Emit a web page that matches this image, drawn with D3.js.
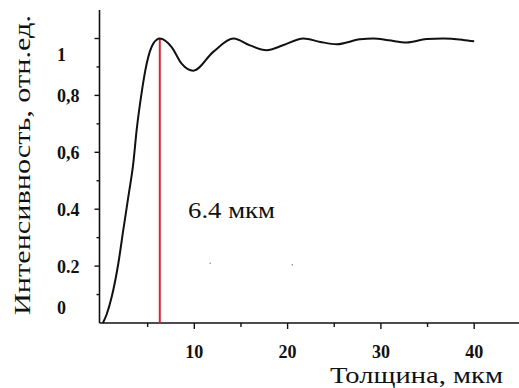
<!DOCTYPE html>
<html>
<head>
<meta charset="utf-8">
<script src="https://cdn.jsdelivr.net/npm/d3@7"></script>
<style>
  body { margin: 0; background: #fff; }
  svg { display: block; }
</style>
</head>
<body>
<svg id="chart" width="519" height="388" font-family="'Liberation Serif', 'Times New Roman', serif"></svg>
<script>
/* data */
const thickness = [0.2, 0.6, 1.15, 1.86, 2.39, 2.93, 3.46, 3.82, 4.29, 4.9, 5.6, 6.3, 7.57, 8.64, 9.9,
  12.03, 14.2, 15.96, 17.75, 19.5, 21.7, 23.5, 25.25, 27.75, 29.2, 30.8, 32.75, 34.9, 36.7, 38.8, 40.0];
const intensity = [0, 0.03, 0.092, 0.21, 0.327, 0.444, 0.561, 0.678, 0.795, 0.912, 0.982, 1.0, 0.97, 0.912, 0.887,
  0.953, 1.0, 0.976, 0.959, 0.976, 1.0, 0.988, 0.98, 0.997, 1.0, 0.994, 0.986, 0.998, 1.0, 0.995, 0.99];
const xTicks = [10, 20, 30, 40];
const xMinorTicks = [5, 15, 25, 35];
const yTicks = [0, 0.2, 0.4, 0.6, 0.8, 1];
const yTickLabels = ["0", "0.2", "0.4", "0,6", "0,8", "1"];
const yMinorTicks = [0.1, 0.3, 0.5, 0.7, 0.9];
const peakX = 6.3;
const peakLabel = "6.4 мкм";
const strayDots = [[11.7, 0.21], [20.5, 0.205]];

const svg = d3.select("#chart");

const x = d3.scaleLinear().domain([0, 10]).range([101, 194.3]);
const y = d3.scaleLinear().domain([0, 1]).range([323, 38.5]);

const x0 = x.invert(99.5), x1 = x.invert(519);

/* axes */
svg.append("line")
  .attr("x1", x(x0)).attr("x2", x(x1))
  .attr("y1", y(0)).attr("y2", y(0))
  .attr("stroke", "#111").attr("stroke-width", 1.6);
svg.append("line")
  .attr("x1", x(x0)).attr("x2", x(x0))
  .attr("y1", y(0)).attr("y2", y(1.1))
  .attr("stroke", "#111").attr("stroke-width", 1.6);

// x ticks
svg.selectAll(".xt").data(xTicks).enter().append("line")
  .attr("x1", d => x(d)).attr("x2", d => x(d))
  .attr("y1", y(0)).attr("y2", y(0) + 6)
  .attr("stroke", "#111").attr("stroke-width", 1.4);
svg.selectAll(".xm").data(xMinorTicks).enter().append("line")
  .attr("x1", d => x(d)).attr("x2", d => x(d))
  .attr("y1", y(0)).attr("y2", y(0) + 4)
  .attr("stroke", "#111").attr("stroke-width", 1.4);
svg.selectAll(".xl").data(xTicks).enter().append("text")
  .attr("x", d => x(d)).attr("y", 358)
  .attr("text-anchor", "middle")
  .attr("font-size", 18).attr("font-weight", "bold")
  .attr("fill", "#111")
  .text(d => d);

// y ticks
svg.selectAll(".yt").data(yTicks.slice(1)).enter().append("line")
  .attr("x1", x(x0) - 5).attr("x2", x(x0))
  .attr("y1", d => y(d)).attr("y2", d => y(d))
  .attr("stroke", "#111").attr("stroke-width", 1.4);
svg.selectAll(".ym").data(yMinorTicks).enter().append("line")
  .attr("x1", x(x0) - 3).attr("x2", x(x0))
  .attr("y1", d => y(d)).attr("y2", d => y(d))
  .attr("stroke", "#111").attr("stroke-width", 1.4);
// labels sit a little off their ticks at both ends, as in the source
const yNudge = d => d === 0 ? -16 : d === 1 ? 15 : 0;
svg.selectAll(".yl").data(yTicks).enter().append("text")
  .attr("x", 57).attr("y", d => y(d) + yNudge(d) + 7)
  .attr("font-size", 18).attr("font-weight", "bold")
  .attr("fill", "#111")
  .text((d, i) => yTickLabels[i]);

// axis titles (the source type is set wide, so stretch to its length)
svg.append("text")
  .attr("transform", "translate(30,165) rotate(-90)")
  .attr("text-anchor", "middle")
  .attr("font-size", 23)
  .attr("textLength", 300).attr("lengthAdjust", "spacingAndGlyphs")
  .attr("fill", "#111")
  .text("Интенсивность, отн.ед.");
svg.append("text")
  .attr("x", 503).attr("y", 383)
  .attr("text-anchor", "end")
  .attr("font-size", 23)
  .attr("textLength", 173).attr("lengthAdjust", "spacingAndGlyphs")
  .attr("fill", "#111")
  .text("Толщина, мкм");

/* red marker at the first maximum */
svg.append("line")
  .attr("x1", x(peakX)).attr("x2", x(peakX))
  .attr("y1", y(0)).attr("y2", y(1))
  .attr("stroke", "#d6263a").attr("stroke-width", 2);

svg.append("text")
  .attr("x", 188).attr("y", 218)
  .attr("font-size", 23)
  .attr("textLength", 87).attr("lengthAdjust", "spacingAndGlyphs")
  .attr("fill", "#111")
  .text(peakLabel);

svg.selectAll(".dot").data(strayDots).enter().append("circle")
  .attr("cx", d => x(d[0])).attr("cy", d => y(d[1]))
  .attr("r", 0.8).attr("fill", "#888");

/* curve */
const pts = thickness.map((t, i) => [t, intensity[i]]);
const line = d3.line()
  .x(d => x(d[0]))
  .y(d => y(d[1]))
  .curve(d3.curveMonotoneX);

svg.append("path")
  .datum(pts)
  .attr("d", line)
  .attr("fill", "none")
  .attr("stroke", "#111")
  .attr("stroke-width", 2);
</script>
</body>
</html>
